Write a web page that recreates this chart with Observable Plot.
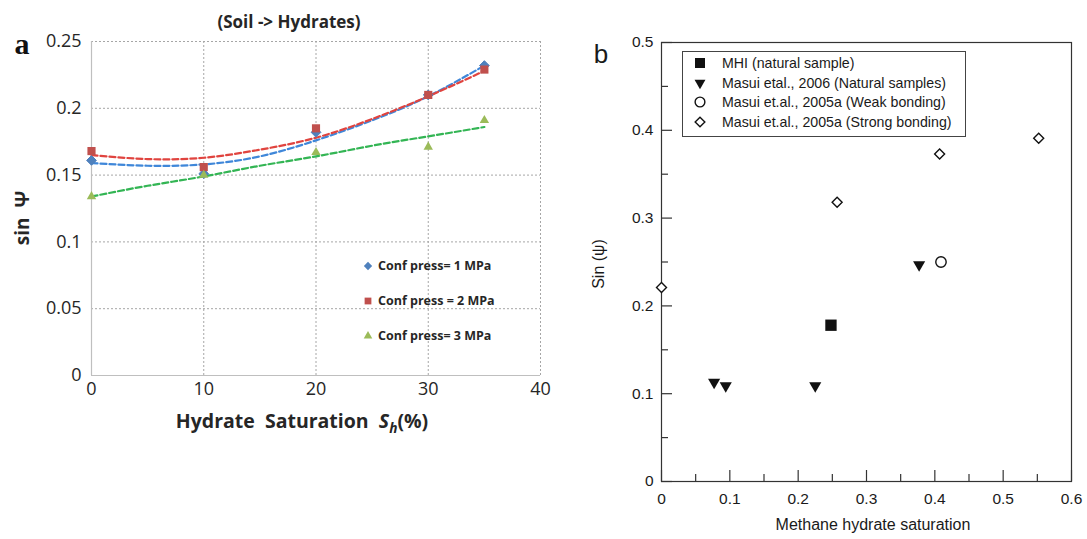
<!DOCTYPE html>
<html><head><meta charset="utf-8">
<script src="https://cdn.jsdelivr.net/npm/d3@7"></script>
<script src="https://cdn.jsdelivr.net/npm/@observablehq/plot@0.6"></script>
<style>
body{margin:0;background:#fff;}
#root{position:relative;width:1087px;height:539px;overflow:hidden;background:#fff;}
#root > svg{position:absolute;top:0;}
.abs{position:absolute;white-space:pre;line-height:1;}
.fa{font-family:"Open Sans",sans-serif;color:#262626;}
.fb{font-family:"Liberation Sans",Arial,sans-serif;color:#1a1a1a;}
.rot{transform:translate(-50%,-50%) rotate(-90deg);}
.ctr{transform:translate(-50%,-50%);}
.leg{display:flex;align-items:center;}
</style></head><body><div id="root"></div>
<script>
// ---------- Panel a data ----------
const satA = [0, 10, 20, 30, 35];
const sin1MPa = [0.161, 0.151, 0.182, 0.210, 0.232];
const sin2MPa = [0.168, 0.156, 0.185, 0.210, 0.229];
const sin3MPa = [0.134, 0.150, 0.167, 0.171, 0.191];
// trend lines
const trendX = [0, 5, 10, 15, 20, 25, 30, 35];
const trend1 = [0.159, 0.157, 0.158, 0.164, 0.176, 0.191, 0.209, 0.232];
const trend2 = [0.165, 0.162, 0.163, 0.169, 0.178, 0.192, 0.209, 0.228];
const trend3 = [0.134, 0.142, 0.149, 0.157, 0.164, 0.172, 0.179, 0.186];
const xTicksA = [0, 10, 20, 30, 40];
const yTicksA = [0, 0.05, 0.1, 0.15, 0.2, 0.25];
const yTickLabelsA = ["0", "0.05", "0.1", "0.15", "0.2", "0.25"];
const seriesA = ["Conf press= 1 MPa", "Conf press = 2 MPa", "Conf press= 3 MPa"];

// ---------- Panel b data ----------
const mhiSat = [0.248], mhiSin = [0.178];
const masui2006Sat = [0.077, 0.094, 0.225, 0.377];
const masui2006Sin = [0.113, 0.109, 0.109, 0.247];
const weakSat = [0.409], weakSin = [0.250];
const strongSat = [0, 0.257, 0.407, 0.552];
const strongSin = [0.221, 0.318, 0.373, 0.391];
const xTicksB = [0, 0.1, 0.2, 0.3, 0.4, 0.5, 0.6];
const xMinorB = [0.05, 0.15, 0.25, 0.35, 0.45, 0.55];
const yTicksB = [0, 0.1, 0.2, 0.3, 0.4, 0.5];
const yMinorB = [0.05, 0.15, 0.25, 0.35, 0.45];
const seriesB = ["MHI (natural sample)", "Masui etal., 2006 (Natural samples)", "Masui et.al., 2005a (Weak bonding)", "Masui et.al., 2005a (Strong bonding)"];

const root = document.getElementById("root");
const zip = (xs, ys) => xs.map((x, i) => ({x, y: ys[i]}));

const colA = {m1: "#4F81BD", m2: "#C0504D", m3: "#9BBB59", l1: "#3f87d9", l2: "#e0443f", l3: "#33b554"};

const plotA = Plot.plot({
  width: 560, height: 440,
  marginLeft: 91, marginRight: 20, marginTop: 41, marginBottom: 65,
  x: {domain: [0, 40]},
  y: {domain: [0, 0.25]},
  style: {fontFamily: "Open Sans, sans-serif", color: "#262626", background: "transparent"},
  marks: [
    Plot.gridX(xTicksA.slice(1), {stroke: "#a6a6a6", strokeOpacity: 1, strokeDasharray: "2,2"}),
    Plot.gridY(yTicksA.slice(1), {stroke: "#a6a6a6", strokeOpacity: 1, strokeDasharray: "2,2"}),
    Plot.ruleX([0], {stroke: "#bfbfbf", strokeWidth: 1.2}),
    Plot.ruleY([0], {stroke: "#bfbfbf", strokeWidth: 1.2}),
    Plot.axisX(xTicksA, {tickSize: 0, tickPadding: 7, fontSize: 18, label: null}),
    Plot.axisY(yTicksA, {tickSize: 0, tickPadding: 10, fontSize: 18, label: null,
      tickFormat: d => yTickLabelsA[yTicksA.indexOf(d)]}),
    Plot.line(zip(trendX, trend1), {x: "x", y: "y", curve: "natural", stroke: colA.l1, strokeWidth: 2.2, strokeDasharray: "6,3"}),
    Plot.line(zip(trendX, trend2), {x: "x", y: "y", curve: "natural", stroke: colA.l2, strokeWidth: 2.2, strokeDasharray: "6,3"}),
    Plot.line(zip(trendX, trend3), {x: "x", y: "y", curve: "natural", stroke: colA.l3, strokeWidth: 2.2, strokeDasharray: "6,3"}),
    Plot.dot(zip(satA, sin1MPa), {x: "x", y: "y", symbol: "diamond2", r: 4.4, fill: colA.m1, stroke: colA.m1, strokeWidth: 1}),
    Plot.dot(zip(satA, sin2MPa), {x: "x", y: "y", symbol: "square", r: 4.6, fill: colA.m2}),
    Plot.dot(zip(satA, sin3MPa), {x: "x", y: "y", symbol: "triangle", r: 3.5, fill: colA.m3})
  ]
});
plotA.style.left = "0px";
root.appendChild(plotA);

// panel b geometry (pixels)
const bW = 527, bH = 539, bML = 101, bMR = 16, bMT = 42, bMB = 58;
const innerW = bW - bML - bMR, innerH = bH - bMT - bMB;
const tickStyle = {stroke: "#333", strokeWidth: 1.2};
const plotB = Plot.plot({
  width: bW, height: bH,
  marginLeft: bML, marginRight: bMR, marginTop: bMT, marginBottom: bMB,
  x: {domain: [0, 0.6]},
  y: {domain: [0, 0.5]},
  style: {fontFamily: "Liberation Sans, Arial, sans-serif", color: "#1a1a1a", background: "transparent"},
  marks: [
    Plot.frame({stroke: "#333", strokeWidth: 1.2}),
    // inward ticks on bottom and left edges
    Plot.ruleX(xTicksB, {...tickStyle, insetTop: innerH - 11}),
    Plot.ruleX(xMinorB, {...tickStyle, insetTop: innerH - 7}),
    Plot.ruleY(yTicksB, {...tickStyle, insetRight: innerW - 11}),
    Plot.ruleY(yMinorB, {...tickStyle, insetRight: innerW - 7}),
    Plot.axisX(xTicksB, {tickSize: 0, tickPadding: 11, fontSize: 15.5, label: null, tickFormat: d => String(d)}),
    Plot.axisY(yTicksB, {tickSize: 0, tickPadding: 8, fontSize: 15.5, label: null, tickFormat: d => String(d)}),
    Plot.dot(zip(strongSat, strongSin), {x: "x", y: "y", symbol: "diamond2", r: 4.5, fill: "white", stroke: "#111", strokeWidth: 1.4}),
    Plot.dot(zip(weakSat, weakSin), {x: "x", y: "y", symbol: "circle", r: 5.2, fill: "white", stroke: "#111", strokeWidth: 1.4}),
    Plot.dot(zip(masui2006Sat, masui2006Sin), {x: "x", y: "y", symbol: "triangle2", r: 5.8, rotate: 180, fill: "#111"}),
    Plot.dot(zip(mhiSat, mhiSin), {x: "x", y: "y", symbol: "square", r: 6.4, fill: "#111"})
  ]
});
plotB.style.left = "560px";
root.appendChild(plotB);

// ---------- text overlays ----------
function addText(html, cls, css) {
  const d = document.createElement("div");
  d.className = "abs " + cls;
  d.innerHTML = html;
  Object.assign(d.style, css);
  root.appendChild(d);
  return d;
}
addText("(Soil -&gt; Hydrates)", "fa ctr", {left: "289px", top: "21px", fontSize: "17px", fontWeight: "700"});
addText("a", "ctr", {left: "22px", top: "44px", fontSize: "30px", fontWeight: "700", fontFamily: "Liberation Serif, serif", color: "#111"});
addText("sin  Ψ", "fa rot", {left: "22px", top: "218px", fontSize: "19px", fontWeight: "700"});
addText("Hydrate  Saturation  <i>S<sub style=\"font-size:0.7em\">h</sub></i>(%)", "fa ctr", {left: "302px", top: "423px", fontSize: "19.5px", fontWeight: "700"});

addText("b", "fb ctr", {left: "601px", top: "54px", fontSize: "26px"});
addText("Sin (ψ)", "fb rot", {left: "599px", top: "264px", fontSize: "16px"});
addText("Methane hydrate saturation", "fb ctr", {left: "873px", top: "525px", fontSize: "16px"});

function symbolSvg(sym, size, fill, stroke, sw, rot) {
  const p = d3.symbol(sym, size)();
  return `<svg width="16" height="16" viewBox="-8 -8 16 16" style="overflow:visible"><path d="${p}" fill="${fill}" stroke="${stroke}" stroke-width="${sw}" transform="rotate(${rot || 0})"/></svg>`;
}

// legend a
const legA = [
  [d3.symbolDiamond2, 44, colA.m1],
  [d3.symbolSquare, 46, colA.m2],
  [d3.symbolTriangle, 32, colA.m3]
];
const legAy = [266, 301, 336];
seriesA.forEach((s, i) => {
  const [sym, size, c] = legA[i];
  addText(symbolSvg(sym, size, c, "none", 0) + `<span style="margin-left:2px">${s}</span>`, "fa leg",
    {left: "360px", top: (legAy[i] - 8) + "px", fontSize: "12.5px", fontWeight: "700", height: "16px"});
});

// legend b
const box = document.createElement("div");
Object.assign(box.style, {position: "absolute", left: "682px", top: "51px", width: "284px", height: "86px",
  border: "1.2px solid #444", boxSizing: "border-box", background: "white"});
root.appendChild(box);
const legB = [
  [d3.symbolSquare, 100, "#111", "none", 0, 0],
  [d3.symbolTriangle2, 85, "#111", "none", 0, 180],
  [d3.symbolCircle, 75, "white", "#111", 1.4, 0],
  [d3.symbolDiamond2, 60, "white", "#111", 1.4, 0]
];
const legBy = [63, 83, 102, 122];
seriesB.forEach((s, i) => {
  const [sym, size, f, st, sw, rot] = legB[i];
  addText(symbolSvg(sym, size, f, st, sw, rot), "", {left: "692px", top: (legBy[i] - 8) + "px"});
  addText(s, "fb", {left: "722px", top: (legBy[i] - 8) + "px", fontSize: "14.2px", lineHeight: "16px"});
});
</script></body></html>
